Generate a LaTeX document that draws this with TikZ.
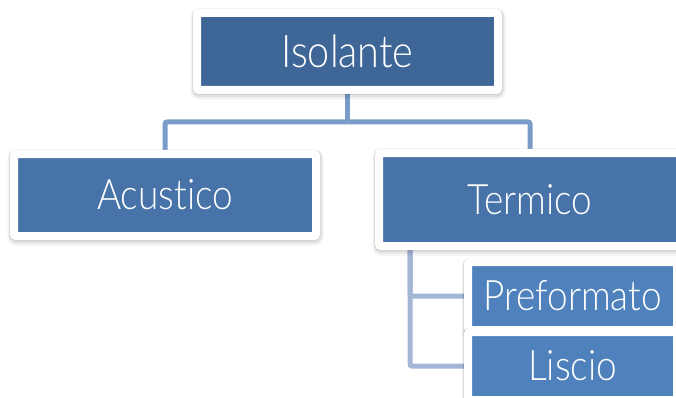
\documentclass[tikz,border=0pt]{standalone}
\usepackage{fontspec}
\setmainfont{Lato}[UprightFont=* Light, FakeStretch=0.88, Ligatures=NoCommon]
\usetikzlibrary{backgrounds}
\definecolor{topblue}{HTML}{3E6697}
\definecolor{midblue}{HTML}{4773A9}
\definecolor{lowblue}{HTML}{4F81BD}
\definecolor{connA}{HTML}{7A9CC8}
\definecolor{connB}{HTML}{A3B6D6}
\tikzset{
  box/.style={draw=white, line width=8pt, rounded corners=2pt, text=white,
    font=\fontsize{42}{46}\selectfont, inner sep=0pt,
    preaction={draw=black, draw opacity=0.05, line width=14pt, transform canvas={xshift=0.5pt, yshift=-2.5pt}},
    preaction={draw=black, draw opacity=0.07, line width=11pt, transform canvas={xshift=0.5pt, yshift=-1.5pt}},
    preaction={draw=black, draw opacity=0.08, line width=9pt, transform canvas={yshift=-0.5pt}}},
  conA/.style={draw=connA, line width=5pt},
  conB/.style={draw=connB, line width=5pt},
}
\begin{document}
\begin{tikzpicture}[x=1pt,y=-1pt]
\useasboundingbox (0,0) rectangle (676,398);
\node[box, fill=topblue, minimum width=301pt, minimum height=77pt, font=\fontsize{45}{50}\selectfont] (iso) at (347.5,51.5) {Isolante};
\node[box, fill=midblue, minimum width=302pt, minimum height=82pt] (acu) at (165,195) {Acustico};
\node[box, fill=midblue, minimum width=302pt, minimum height=93pt] (ter) at (530,199.5) {Termico};
\node[box, fill=lowblue, minimum width=209pt, minimum height=68pt] (pre) at (572.5,296) {Preformato};
\node[box, fill=lowblue, minimum width=209pt, minimum height=68pt] (lis) at (572.5,366) {Liscio};
\coordinate (bus) at (347.5,122);
\coordinate (tv) at (410,246);
\begin{scope}[on background layer]
\draw[conA] (iso.south) -- (bus);
\draw[conA, rounded corners=2pt] (bus) -| (acu.north);
\draw[conA, rounded corners=2pt] (bus) -| (ter.north);
\draw[conB, rounded corners=2pt] (tv) |- (pre.west);
\draw[conB, rounded corners=2pt] (tv) |- (lis.west);
\end{scope}
\end{tikzpicture}
\end{document}
